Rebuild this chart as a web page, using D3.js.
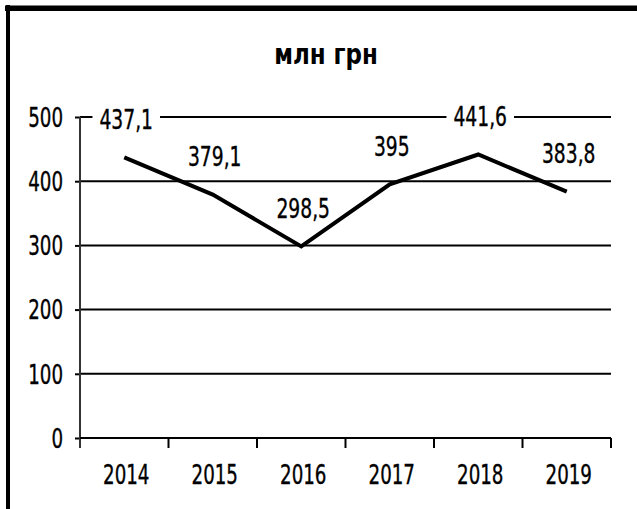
<!DOCTYPE html>
<html>
<head>
<meta charset="utf-8">
<script src="https://cdn.jsdelivr.net/npm/d3@7"></script>
<style>
  body { margin: 0; background: #fff; }
  svg text { font-family: "DejaVu Sans Condensed", "DejaVu Sans", sans-serif; font-stretch: condensed; fill: #000; }
  svg text.num { stroke: #000; stroke-width: 0.35px; }
</style>
</head>
<body>
<svg width="637" height="509"></svg>
<script>
  // data
  var years = ["2014", "2015", "2016", "2017", "2018", "2019"];
  var values = [437.1, 379.1, 298.5, 395, 441.6, 383.8];
  var labels = ["437,1", "379,1", "298,5", "395", "441,6", "383,8"];
  var yTicks = [0, 100, 200, 300, 400, 500];
  var title = "млн грн";

  var svg = d3.select("svg");

  var x = d3.scaleBand().domain(years).range([80, 611]);
  var y = d3.scaleLinear().domain([0, 500]).range([438, 117]);

  // the original font is narrower than anything installed, so squeeze it
  function squeeze(sel, k) {
    sel.each(function () {
      var len = this.getComputedTextLength();
      d3.select(this)
        .attr("textLength", len * k)
        .attr("lengthAdjust", "spacingAndGlyphs");
    });
  }

  // frame (top and left only)
  svg.append("line")
    .attr("x1", 5).attr("x2", 637).attr("y1", 8.25).attr("y2", 8.25)
    .attr("stroke", "#000").attr("stroke-width", 5.5);
  svg.append("line")
    .attr("x1", 8).attr("x2", 8).attr("y1", 5).attr("y2", 509)
    .attr("stroke", "#000").attr("stroke-width", 4);

  // title
  svg.append("text")
    .attr("x", 326).attr("y", 64)
    .attr("text-anchor", "middle")
    .style("font-size", "29px")
    .style("font-weight", "bold")
    .text(title)
    .call(squeeze, 0.88);

  // gridlines
  svg.append("g")
    .selectAll("line")
    .data(yTicks.filter(function (d) { return d > 0; }))
    .enter()
    .append("line")
    .attr("x1", 80).attr("x2", 611)
    .attr("y1", function (d) { return y(d); })
    .attr("y2", function (d) { return y(d); })
    .attr("stroke", "#000")
    .attr("stroke-width", 2);

  // y axis
  var yAxis = svg.append("g")
    .attr("transform", "translate(80,0)")
    .call(d3.axisLeft(y).tickValues(yTicks).tickSize(5).tickPadding(12));
  yAxis.select(".domain").remove();
  yAxis.append("line")
    .attr("x1", 0).attr("x2", 0).attr("y1", 117).attr("y2", 448)
    .attr("stroke", "#333").attr("stroke-width", 2);
  yAxis.selectAll(".tick line").attr("stroke", "#000").attr("stroke-width", 2);
  yAxis.attr("font-family", null).attr("font-size", null);
  yAxis.selectAll(".tick text")
    .attr("class", "num")
    .style("font-size", "26px")
    .attr("dy", "0.36em")
    .attr("fill", "#000")
    .call(squeeze, 0.78);

  // x axis
  var xAxis = svg.append("g")
    .attr("transform", "translate(0,438)")
    .call(d3.axisBottom(x).tickSize(0).tickPadding(27));
  xAxis.select(".domain").remove();
  xAxis.append("line")
    .attr("x1", 80).attr("x2", 611).attr("y1", 0).attr("y2", 0)
    .attr("stroke", "#000").attr("stroke-width", 2);
  var bounds = years.map(function (d) { return x(d); }).concat([x.range()[1]]);
  xAxis.selectAll(".bound")
    .data(bounds.slice(1))
    .enter()
    .append("line")
    .attr("class", "bound")
    .attr("x1", function (d) { return d; })
    .attr("x2", function (d) { return d; })
    .attr("y1", 0).attr("y2", 10)
    .attr("stroke", "#000").attr("stroke-width", 2);
  xAxis.attr("font-family", null).attr("font-size", null);
  xAxis.selectAll(".tick text")
    .attr("class", "num")
    .style("font-size", "26px")
    .attr("dy", "0.71em")
    .attr("y", 28)
    .attr("x", 2)
    .attr("fill", "#000")
    .call(squeeze, 0.78);

  // label backgrounds go under the line, text over it
  var bgLayer = svg.append("g");

  var line = d3.line()
    .x(function (d, i) { return x(years[i]) + x.bandwidth() / 2; })
    .y(function (d) { return y(d); });

  svg.append("path")
    .datum(values)
    .attr("d", line)
    .attr("fill", "none")
    .attr("stroke", "#000")
    .attr("stroke-width", 4)
    .attr("stroke-linejoin", "miter");

  // data labels
  var lab = svg.append("g")
    .selectAll("text")
    .data(values)
    .enter()
    .append("text")
    .attr("class", "num")
    .attr("x", function (d, i) { return x(years[i]) + x.bandwidth() / 2 + 2; })
    .attr("y", function (d) { return y(d) - 38; })
    .attr("text-anchor", "middle")
    .attr("dy", "0.36em")
    .style("font-size", "26px")
    .text(function (d, i) { return labels[i]; })
    .call(squeeze, 0.8);

  lab.each(function () {
    var bb = this.getBBox();
    bgLayer.append("rect")
      .attr("x", bb.x - 7).attr("y", bb.y)
      .attr("width", bb.width + 14).attr("height", bb.height)
      .attr("fill", "#fff");
  });
</script>
</body>
</html>
